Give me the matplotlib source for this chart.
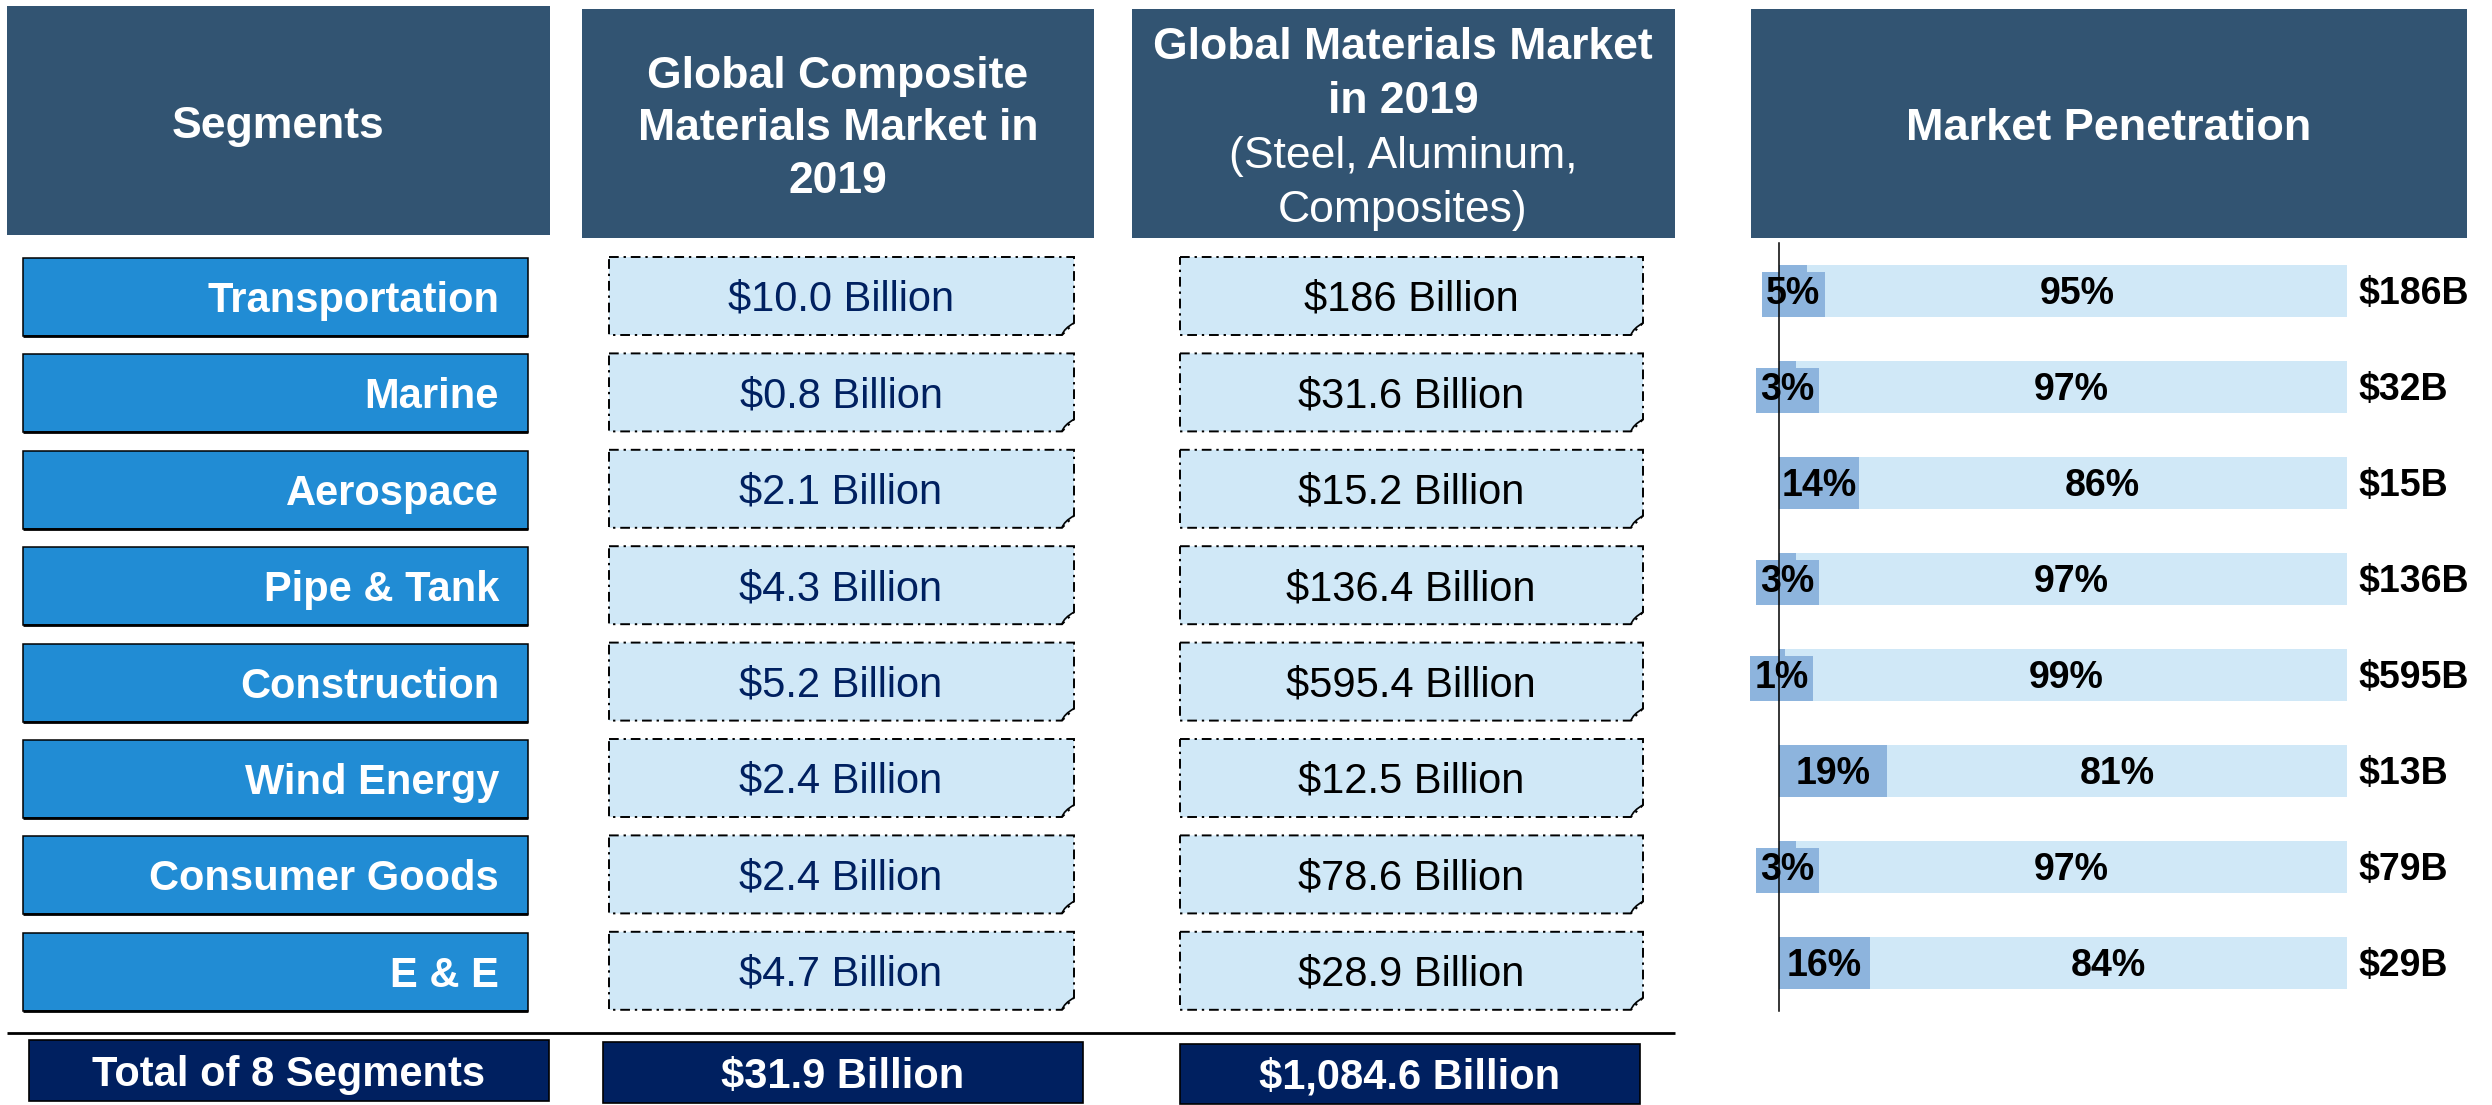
import matplotlib
matplotlib.use("Agg")
import matplotlib.pyplot as plt
from matplotlib.patches import Rectangle, Polygon, PathPatch
from matplotlib.path import Path
from matplotlib.transforms import offset_copy

# ---------------- data ----------------
segments = ["Transportation", "Marine", "Aerospace", "Pipe & Tank",
            "Construction", "Wind Energy", "Consumer Goods", "E & E"]
composite_labels = ["$10.0 Billion", "$0.8 Billion", "$2.1 Billion", "$4.3 Billion",
                    "$5.2 Billion", "$2.4 Billion", "$2.4 Billion", "$4.7 Billion"]
materials_labels = ["$186 Billion", "$31.6 Billion", "$15.2 Billion", "$136.4 Billion",
                    "$595.4 Billion", "$12.5 Billion", "$78.6 Billion", "$28.9 Billion"]
penetration_pct = [5, 3, 14, 3, 1, 19, 3, 16]
market_size_labels = ["$186B", "$32B", "$15B", "$136B", "$595B", "$13B", "$79B", "$29B"]

total_segments_label = "Total of 8 Segments"
total_composite_label = "$31.9 Billion"
total_materials_label = "$1,084.6 Billion"

header_segments = "Segments"
header_composite = ["Global Composite", "Materials Market in", "2019"]
header_materials_bold = ["Global Materials Market", "in 2019"]
header_materials_plain = ["(Steel, Aluminum,", "Composites)"]
header_penetration = "Market Penetration"

# ---------------- style ----------------
W, H, DPI = 2492, 1105, 100
FONT = "Liberation Sans"
C_HEADER = "#325472"
C_SEG = "#218CD4"
C_LIGHT = "#D0E8F7"
C_DARK = "#8DB4DD"
C_NAVY = "#002060"

fig = plt.figure(figsize=(W / DPI, H / DPI), dpi=DPI)
ax = fig.add_axes([0, 0, 1, 1])
ax.set_xlim(0, W)
ax.set_ylim(H, 0)
ax.axis("off")


def ctext(x, y, s, size, color, weight="bold", ha="center"):
    """Place text so that its cap height is centred on y (pixel space)."""
    px = size * DPI / 72.0
    ax.text(x, y + 0.358 * px, s, fontsize=size, color=color, fontweight=weight,
            ha=ha, va="baseline", family=FONT)


def rect(x0, y0, x1, y1, fc, ec="none", lw=0.0):
    ax.add_patch(Rectangle((x0, y0), x1 - x0, y1 - y0, facecolor=fc,
                           edgecolor=ec, linewidth=lw))


def note_box(x0, y0, x1, y1, fc, c=12):
    """Dash-dot bordered box with a folded bottom-right corner."""
    pts = [(x0, y0), (x1, y0), (x1, y1 - c), (x1 - c, y1), (x0, y1)]
    ax.add_patch(Polygon(pts, closed=True, facecolor=fc, edgecolor="black",
                         linewidth=1.4, linestyle=(0, (5, 2.5, 1.2, 2.5))))
    verts = [(x1 - c, y1), (x1 - c + 2, y1 - c * 0.55), (x1, y1 - c)]
    ax.add_patch(PathPatch(Path(verts, [Path.MOVETO, Path.CURVE3, Path.CURVE3]),
                           facecolor="none", edgecolor="black", linewidth=1.2))


# ---------------- header row ----------------
rect(7, 6, 550, 235, C_HEADER)
ctext(278, 122, header_segments, 32, "white")

rect(582, 9, 1094, 238, C_HEADER)
for k, line in enumerate(header_composite):
    ctext(838, 72 + 52.5 * k, line, 32, "white")

rect(1132, 9, 1675, 238, C_HEADER)
mat_lines = [(t, "bold") for t in header_materials_bold] + \
            [(t, "normal") for t in header_materials_plain]
for k, (line, wt) in enumerate(mat_lines):
    ctext(1403, 43 + 54.5 * k, line, 32, "white", weight=wt)

rect(1751, 9, 2467, 238, C_HEADER)
ctext(2109, 124, header_penetration, 32.5, "white")

# ---------------- table rows ----------------
row0, pitch, box_h = 297, 96.4, 78
for i, seg in enumerate(segments):
    cy = row0 + pitch * i
    y0, y1 = cy - box_h / 2, cy + box_h / 2
    rect(23, y0, 528, y1, C_SEG, ec="black", lw=1.1)
    ax.plot([23, 528], [y1, y1], color="black", lw=2.0, solid_capstyle="butt")
    ctext(499, cy, seg, 30, "white", ha="right")

    note_box(609, y0 - 1, 1074, y1 - 1, C_LIGHT)
    ctext(841, cy - 1, composite_labels[i], 30, C_NAVY, weight="normal")

    note_box(1180, y0 - 1, 1643, y1 - 1, C_LIGHT)
    ctext(1411, cy - 1, materials_labels[i], 30, "black", weight="normal")

# ---------------- totals ----------------
ax.plot([7, 1675], [1033, 1033], color="black", lw=2.0, solid_capstyle="butt")
rect(29, 1040, 549, 1101, C_NAVY, ec="black", lw=1.2)
ctext(289, 1071, total_segments_label, 30, "white")
rect(603, 1042, 1083, 1103, C_NAVY, ec="black", lw=1.2)
ctext(843, 1073, total_composite_label, 30, "white")
rect(1180, 1044, 1640, 1104, C_NAVY, ec="black", lw=1.2)
ctext(1410, 1074, total_materials_label, 30, "white")

# ---------------- market penetration bars ----------------
bx0, bx1, by0, by1 = 1779, 2347, 243, 1011
axb = fig.add_axes([bx0 / W, 1 - by1 / H, (bx1 - bx0) / W, (by1 - by0) / H])
axb.set_facecolor("none")
axb.set_xlim(0, 100)
axb.set_ylim(len(segments) - 0.5, -0.5)
for side in ("top", "right", "bottom"):
    axb.spines[side].set_visible(False)
axb.spines["left"].set_linewidth(1.1)
axb.spines["left"].set_zorder(10)
axb.set_xticks([])
axb.set_yticks([])

ypos = list(range(len(segments)))
rest_pct = [100 - p for p in penetration_pct]
axb.barh(ypos, penetration_pct, height=0.552, color=C_DARK, linewidth=0)
axb.barh(ypos, rest_pct, left=penetration_pct, height=0.552, color=C_LIGHT, linewidth=0)

lab_size = 27
lab_px = lab_size * DPI / 72.0
tr = offset_copy(axb.transData, fig=fig, x=0, y=-0.358 * lab_px, units="dots")
dark_texts = []
for i, (p, r) in enumerate(zip(penetration_pct, rest_pct)):
    t = axb.text(p / 2, i, f"{p}%", transform=tr, fontsize=lab_size, fontweight="bold",
                 ha="center", va="baseline", family=FONT, color="black", clip_on=False)
    dark_texts.append((t, p))
    axb.text(p + r / 2, i, f"{r}%", transform=tr, fontsize=lab_size, fontweight="bold",
             ha="center", va="baseline", family=FONT, color="black", clip_on=False)
    axb.text(102.1, i, market_size_labels[i], transform=tr, fontsize=lab_size,
             fontweight="bold", ha="left", va="baseline", family=FONT, color="black",
             clip_on=False)

# labels wider than their segment get a backing box in the segment colour
fig.canvas.draw()
renderer = fig.canvas.get_renderer()
for t, p in dark_texts:
    seg_px = p / 100.0 * (bx1 - bx0)
    if t.get_window_extent(renderer).width > seg_px:
        t.set_bbox(dict(boxstyle="square,pad=0.12", facecolor=C_DARK, edgecolor="none"))

fig.savefig("out.png", dpi=DPI)
